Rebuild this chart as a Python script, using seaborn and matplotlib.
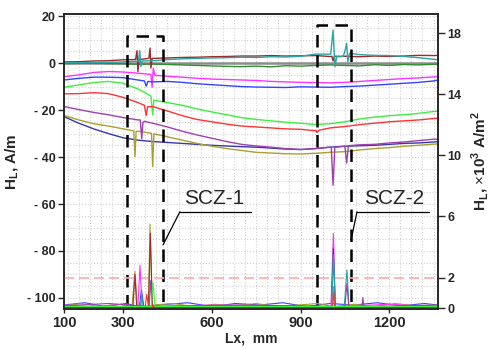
import numpy as np
import matplotlib
matplotlib.use("Agg")
import matplotlib.pyplot as plt
import seaborn as sns
from matplotlib.ticker import MultipleLocator, FuncFormatter

# position along the sample, mm
xs = [100, 150, 200, 250, 300, 350, 400, 450, 500, 550, 600, 650, 700, 750,
      800, 850, 900, 950, 1000, 1050, 1100, 1150, 1200, 1250, 1300, 1350, 1365]

# H_L field curves, A/m (left axis)
brown = [0.5, 0.6, 0.9, 1.0, 1.4, 1.5, 2.0, 2.2, 2.4, 2.5, 2.7, 2.8, 3.0, 3.0,
         3.2, 3.0, 3.1, 3.2, 2.8, 2.9, 2.7, 3.0, 2.8, 3.0, 3.3, 3.2, 3.3]
teal = [0.2, 0.2, 0.3, 0.3, 0.5, 0.8, 1.0, 1.5, 1.8, 2.0, 2.2, 2.3, 2.5, 2.4,
        2.7, 2.6, 2.9, 3.8, 3.8, 3.4, 3.6, 3.3, 3.2, 2.8, 2.3, 1.6, 1.4]
green = [-0.2, -0.1, 0.0, -0.2, -0.3, -0.5, -0.4, -0.6, -0.8, -1.0, -1.2, -1.4, -1.5, -1.3,
         -1.6, -1.1, -1.3, -1.0, -0.8, -1.0, -1.2, -0.7, -1.0, -0.6, -0.8, -0.5, -0.5]
magenta = [-5.8, -5.0, -4.0, -3.6, -3.8, -4.3, -4.8, -5.6, -6.0, -6.5, -6.8, -7.0, -7.2, -7.4,
           -7.8, -8.0, -8.2, -8.3, -8.4, -8.2, -7.8, -7.4, -7.0, -6.6, -6.3, -5.9, -5.8]
blue = [-7.2, -6.5, -6.0, -6.0, -6.2, -7.2, -8.0, -7.8, -8.2, -8.8, -9.2, -9.6, -10.0, -10.2,
        -10.3, -10.4, -10.1, -10.2, -10.3, -10.0, -9.8, -9.4, -9.0, -8.6, -8.2, -7.6, -7.2]
lime = [-10.3, -9.3, -8.3, -7.8, -8.6, -11.0, -14.2, -16.8, -18.0, -19.5, -20.8, -22.0, -23.2, -24.0,
        -24.6, -25.2, -25.6, -26.2, -25.8, -25.0, -23.8, -23.0, -22.4, -22.0, -21.4, -20.6, -20.4]
red = [-13.1, -13.0, -12.6, -13.0, -14.6, -16.8, -18.5, -20.4, -22.4, -24.0, -25.0, -26.0, -26.8, -27.2,
       -27.6, -28.0, -28.2, -28.8, -27.6, -27.0, -26.2, -25.6, -25.0, -24.6, -24.2, -23.6, -23.5]
purple = [-18.5, -19.8, -21.0, -22.0, -23.2, -24.2, -25.6, -27.2, -29.0, -30.6, -32.0, -33.4, -34.6, -35.3,
          -35.8, -36.4, -36.8, -36.4, -35.8, -35.2, -34.8, -34.6, -34.0, -33.6, -33.0, -32.4, -32.4]
navy = [-22.8, -25.6, -28.0, -30.0, -31.8, -32.8, -33.4, -33.8, -34.2, -34.6, -35.0, -35.3, -35.6, -35.8,
        -36.2, -36.6, -36.8, -36.4, -35.8, -35.4, -35.2, -35.0, -34.6, -34.2, -34.0, -33.6, -33.4]
olive = [-22.3, -24.2, -25.8, -26.8, -28.0, -29.0, -30.0, -31.4, -32.8, -34.2, -35.4, -36.4, -37.2, -38.0,
         -38.3, -38.6, -38.7, -38.4, -38.0, -37.7, -37.0, -36.4, -36.0, -35.4, -35.0, -34.5, -34.4]

# local anomalies in the stress concentration zones
brown_sp = [([342, 347, 350, 354], [1.5, 5.3, -3.6, 1.5]),
            ([387, 391, 394, 398], [2.0, 6.4, -2.1, 2.0]),
            ([1006, 1010, 1014], [2.9, 0.9, 2.9])]
teal_sp = [([352, 356, 360, 364], [0.8, 5.3, -1.5, 0.9]),
           ([1002, 1010, 1014, 1017, 1022, 1035, 1045, 1052, 1056, 1060, 1066],
            [3.8, 14.0, 4.0, -1.5, 2.7, 2.7, 3.0, 6.0, 8.4, 0.6, 4.2])]
magenta_sp = [([394, 398, 402, 407], [-4.8, -10.3, -2.2, -5.2])]
blue_sp = [([372, 378, 384], [-7.6, -9.8, -7.8])]
lime_sp = [([394, 400, 404], [-14.0, -22.1, -15.8])]
red_sp = [([372, 378, 383], [-18.0, -22.3, -18.6]), ([952, 956, 962], [-28.6, -29.6, -28.6])]
purple_sp = [([358, 363, 367, 372], [-24.2, -32.2, -25.2, -24.8]),
             ([1004, 1010, 1016], [-36.0, -52.0, -35.8]),
             ([1050, 1056, 1062], [-35.4, -42.6, -35.2])]
olive_sp = [([336, 340, 344], [-28.9, -39.8, -29.1]), ([396, 400, 404], [-29.9, -44.1, -30.1])]

# gradient of H_L, x10^3 A/m^2 (right axis)
g_olive_x = [100, 160, 220, 280, 330, 340, 348, 385, 391, 398, 470, 540, 610, 680, 750, 820, 890,
             960, 1008, 1012, 1016, 1080, 1150, 1220, 1290, 1365]
g_olive_y = [0.15, 0.3, 0.1, 0.25, 0.1, 2.4, 0.15, 0.1, 5.5, 0.2, 0.3, 0.1, 0.25, 0.15, 0.3, 0.1, 0.2,
             0.3, 0.1, 1.4, 0.1, 0.25, 0.1, 0.3, 0.15, 0.2]
g_brown_x = [100, 333, 340, 346, 386, 392, 399, 1365]
g_brown_y = [0.05, 0.05, 2.2, 0.05, 0.05, 4.9, 0.05, 0.05]
g_magenta_x = [100, 200, 300, 350, 357, 364, 600, 800, 1003, 1011, 1018, 1200, 1365]
g_magenta_y = [0.2, 0.1, 0.25, 0.1, 2.8, 0.1, 0.2, 0.15, 0.1, 4.9, 0.1, 0.25, 0.1]
g_navy_x = [100, 1005, 1011, 1017, 1365]
g_navy_y = [0.05, 0.05, 3.9, 0.05, 0.05]
g_teal_x = [100, 358, 363, 368, 1005, 1011, 1018, 1048, 1057, 1064, 1365]
g_teal_y = [0.1, 0.1, 0.8, 0.1, 0.1, 3.5, 0.1, 0.1, 2.5, 0.1, 0.1]
g_purple_x = [100, 250, 388, 393, 398, 700, 1050, 1057, 1063, 1108, 1111, 1114, 1365]
g_purple_y = [0.15, 0.3, 0.1, 1.8, 0.1, 0.2, 0.1, 1.6, 0.1, 0.1, 0.7, 0.1, 0.2]
g_red_x = [100, 375, 380, 386, 1008, 1013, 1018, 1365]
g_red_y = [0.1, 0.1, 0.9, 0.1, 0.1, 1.0, 0.1, 0.1]
g_green_x = [100, 395, 401, 408, 1365]
g_green_y = [0.1, 0.1, 1.7, 0.1, 0.1]
g_blue_x = [100, 170, 240, 310, 355, 362, 370, 450, 520, 600, 680, 760, 840, 920, 1000, 1080,
            1160, 1240, 1320, 1365]
g_blue_y = [0.2, 0.35, 0.1, 0.3, 0.1, 1.2, 0.1, 0.25, 0.35, 0.1, 0.3, 0.2, 0.35, 0.1, 0.3, 0.2,
            0.35, 0.15, 0.3, 0.2]

# zones: x from, x to, top (A/m)
zones = [(313, 435, 11.5, "SCZ-1"), (955, 1071, 16.2, "SCZ-2")]


def merge(base, spikes):
    keep = [i for i, v in enumerate(xs)
            if not any(min(sx) <= v <= max(sx) for sx, _ in spikes)]
    x = [xs[i] for i in keep]
    y = [base[i] for i in keep]
    for sx, sy in spikes:
        x += sx
        y += sy
    order = np.argsort(x)
    return np.array(x)[order], np.array(y)[order]


sns.set_style("white")
plt.rcParams['font.family'] = ['Liberation Sans', 'DejaVu Sans']
plt.rcParams['mathtext.fontset'] = 'custom'
plt.rcParams['mathtext.rm'] = 'Liberation Sans'
plt.rcParams['mathtext.bf'] = 'Liberation Sans:bold'

fig = plt.figure(figsize=(4.9, 3.49), dpi=100)
ax = fig.add_axes([0.1306, 0.1146, 0.7633, 0.8453])

# grid
ax.xaxis.set_minor_locator(MultipleLocator(37.5))
ax.yaxis.set_minor_locator(MultipleLocator(5))
ax.grid(which='both', color='#d2d2d2', linestyle=':', lw=0.8)
ax.set_axisbelow(True)

ax.axhline(0, color='#8c8c8c', lw=1.8, zorder=1)

curves = [
    (green, [], '#2f8f2f'),
    (brown, brown_sp, '#9c2b2b'),
    (teal, teal_sp, '#2aa5a5'),
    (magenta, magenta_sp, '#ff33ff'),
    (blue, blue_sp, '#3344ff'),
    (lime, lime_sp, '#3cf03c'),
    (red, red_sp, '#ff3333'),
    (navy, [], '#3838a8'),
    (olive, olive_sp, '#a8a030'),
    (purple, purple_sp, '#a040b0'),
]
for base, sp, col in curves:
    x, y = merge(base, sp)
    sns.lineplot(x=x, y=y, ax=ax, color=col, lw=1.0, estimator=None, sort=True)

# zone boxes and labels
for x0, x1, top, name in zones:
    ax.plot([x0, x0, x1, x1], [-104, top, top, -104], color='k', lw=1.8,
            dashes=(5, 3), zorder=5)
ax.text(607, -61.8, "SCZ-1", ha='center', va='bottom', fontsize=15, zorder=6)
ax.plot([492, 731], [-63.3, -63.3], color='k', lw=0.9, zorder=6)
ax.plot([492, 435], [-63.3, -77.4], color='k', lw=0.9, zorder=6)
ax.text(1216, -61.8, "SCZ-2", ha='center', va='bottom', fontsize=15, zorder=6)
ax.plot([1091, 1334], [-63.3, -63.3], color='k', lw=0.9, zorder=6)
ax.plot([1091, 1071], [-63.3, -75.3], color='k', lw=0.9, zorder=6)

ax.set_xlim(100, 1365)
ax.set_ylim(-104.7, 20.9)
ax.set_xticks([100, 300, 600, 900, 1200])
ax.set_yticks([20, 0, -20, -40, -60, -80, -100])
ax.yaxis.set_major_formatter(FuncFormatter(
    lambda v, _: f"- {abs(int(v))}" if v < 0 else f"{int(v)}"))
ax.tick_params(axis='y', which='major', direction='out', length=4, width=1,
               labelsize=9, left=True, pad=2)
ax.tick_params(axis='x', which='major', direction='out', length=3, width=1,
               labelsize=10.5, bottom=True, pad=2)
ax.tick_params(which='minor', length=0)
for lab in ax.get_xticklabels() + ax.get_yticklabels():
    lab.set_fontweight('bold')
ax.set_xlabel("Lx,  mm", fontsize=10, fontweight='bold', labelpad=1)
ax.set_ylabel(r"H$_\mathbf{L}$, A/m", fontsize=11, fontweight='bold', labelpad=4)

# gradient axis
ax2 = ax.twinx()
ax2.axhline(2, color='#ffaaaa', lw=1.2, dashes=(6, 3), zorder=1)
grads = [
    (g_blue_x, g_blue_y, '#3344ff'),
    (g_olive_x, g_olive_y, '#a8a030'),
    (g_brown_x, g_brown_y, '#9c2b2b'),
    (g_magenta_x, g_magenta_y, '#ff33ff'),
    (g_navy_x, g_navy_y, '#3838a8'),
    (g_teal_x, g_teal_y, '#2aa5a5'),
    (g_purple_x, g_purple_y, '#a040b0'),
    (g_red_x, g_red_y, '#ff3333'),
    (g_green_x, g_green_y, '#3cf03c'),
]
for gx, gy, col in grads:
    sns.lineplot(x=gx, y=gy, ax=ax2, color=col, lw=0.8, estimator=None, sort=True)
ax2.set_ylim(-0.06, 19.25)
ax2.set_yticks([0, 2, 6, 10, 14, 18])
ax2.tick_params(axis='y', direction='out', length=5, width=1, labelsize=9, right=True, pad=2)
for lab in ax2.get_yticklabels():
    lab.set_fontweight('bold')
ax2.set_ylabel(r"H$_\mathbf{L}$, $\times$10$^\mathbf{3}$ A/m$^\mathbf{2}$",
               fontsize=11, fontweight='bold', labelpad=5)

for a in (ax, ax2):
    for s in a.spines.values():
        s.set_color('#222222')
        s.set_linewidth(1.1)
        s.set_visible(True)

fig.savefig("out.png", dpi=100)
